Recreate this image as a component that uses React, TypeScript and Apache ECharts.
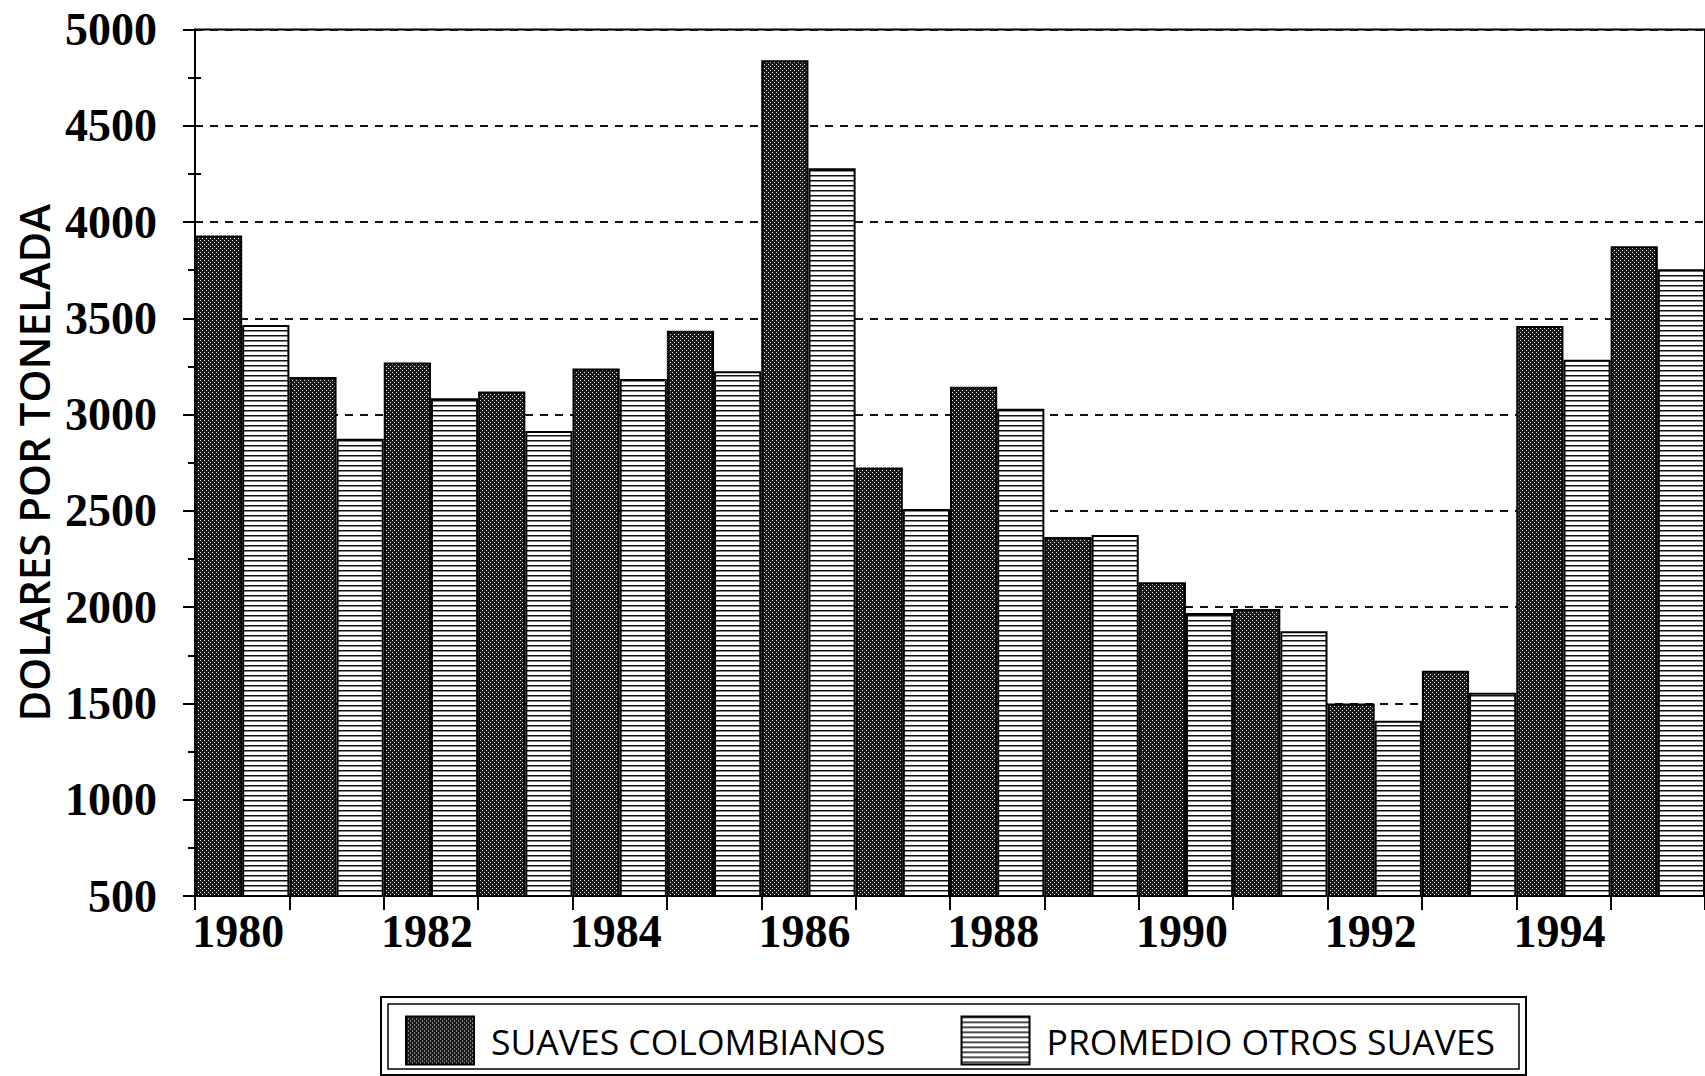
import React, { useEffect, useRef } from "react";
import * as echarts from "echarts";

// ---- data ----
const years = [
  "1980", "1981", "1982", "1983", "1984", "1985", "1986", "1987",
  "1988", "1989", "1990", "1991", "1992", "1993", "1994", "1995",
];
const suavesColombianos = [
  3930, 3195, 3270, 3120, 3240, 3435, 4840, 2725,
  3145, 2365, 2130, 1990, 1500, 1670, 3460, 3875,
];
const promedioOtrosSuaves = [
  3465, 2875, 3085, 2915, 3185, 3225, 4280, 2510,
  3030, 2375, 1970, 1875, 1410, 1555, 3285, 3755,
];
const seriesNames = ["SUAVES COLOMBIANOS", "PROMEDIO OTROS SUAVES"];
const yAxisTitle = "DOLARES POR TONELADA";
const yMin = 500;
const yMax = 5000;
const yInterval = 500;

function makeDotPattern(): HTMLCanvasElement {
  const c = document.createElement("canvas");
  c.width = 4;
  c.height = 4;
  const ctx = c.getContext("2d")!;
  ctx.fillStyle = "#1a1a1a";
  ctx.fillRect(0, 0, 4, 4);
  ctx.fillStyle = "#eeeeee";
  ctx.fillRect(0, 0, 1, 1);
  ctx.fillRect(2, 2, 1, 1);
  return c;
}

function makeLinePattern(): HTMLCanvasElement {
  const c = document.createElement("canvas");
  c.width = 8;
  c.height = 5;
  const ctx = c.getContext("2d")!;
  ctx.fillStyle = "#ffffff";
  ctx.fillRect(0, 0, 8, 5);
  ctx.fillStyle = "#111111";
  ctx.fillRect(0, 0, 8, 1.5);
  return c;
}

export default function App() {
  const ref = useRef<HTMLDivElement>(null);

  useEffect(() => {
    if (!ref.current) return;
    const chart = echarts.init(ref.current, undefined, { renderer: "svg" });
    const dots = makeDotPattern();
    const lines = makeLinePattern();
    const axisLine = { color: "#000", width: 2 };
    const serif = "'Liberation Serif', 'Times New Roman', serif";
    const sans = "'Open Sans', 'Noto Sans', sans-serif";

    chart.setOption({
      animation: false,
      backgroundColor: "#ffffff",
      grid: {
        left: 195,
        right: -8,
        top: 29.5,
        bottom: 180,
        show: true,
        borderColor: "#000",
        borderWidth: 2,
        backgroundColor: "transparent",
      },
      xAxis: {
        type: "category",
        data: years,
        boundaryGap: true,
        axisLine: { show: true, lineStyle: axisLine },
        axisTick: { show: true, interval: 0, length: 14, lineStyle: axisLine },
        axisLabel: {
          interval: 1,
          margin: 12,
          color: "#000",
          fontFamily: serif,
          fontWeight: "bold",
          fontSize: 46,
          padding: [0, 8, 0, 0],
        },
        splitLine: { show: false },
      },
      yAxis: [
        {
          type: "value",
          min: yMin,
          max: yMax,
          interval: yInterval,
          name: yAxisTitle,
          nameLocation: "middle",
          nameGap: 127,
          nameTextStyle: {
            fontFamily: sans,
            fontWeight: 600,
            fontSize: 42,
            color: "#000",
          },
          axisLine: { show: true, lineStyle: axisLine },
          axisTick: { show: true, length: 12, lineStyle: axisLine },
          minorTick: { show: true, splitNumber: 2, length: 7, lineStyle: axisLine },
          axisLabel: {
            margin: 38,
            color: "#000",
            fontFamily: serif,
            fontWeight: "bold",
            fontSize: 46,
            formatter: (v: number) => String(v),
          },
          splitLine: {
            show: true,
            lineStyle: { type: [8, 7], color: "#111", width: 1.8 },
          },
        },
        {
          type: "value",
          min: yMin,
          max: yMax,
          interval: yInterval,
          position: "left",
          axisLine: { show: false },
          axisTick: { show: true, inside: true, length: 3, lineStyle: axisLine },
          minorTick: { show: true, splitNumber: 2, length: 6, lineStyle: axisLine },
          axisLabel: { show: false },
          splitLine: { show: false },
        },
      ],
      legend: {
        data: seriesNames,
        left: 405,
        top: 1015.5,
        padding: 0,
        itemWidth: 68,
        itemHeight: 48,
        itemGap: 75,
        icon: "rect",
        selectedMode: false,
        textStyle: {
          fontFamily: sans,
          fontSize: 35.5,
          color: "#000",
          padding: [0, 0, 0, 12],
        },
      },
      graphic: [
        {
          type: "rect",
          shape: { x: 381, y: 997, width: 1145, height: 78 },
          style: { fill: "none", stroke: "#000", lineWidth: 2 },
        },
        {
          type: "rect",
          shape: { x: 388, y: 1004, width: 1131, height: 65 },
          style: { fill: "none", stroke: "#000", lineWidth: 1.5 },
        },
      ],
      series: [
        {
          type: "bar",
          name: seriesNames[0],
          data: suavesColombianos,
          barGap: "0%",
          barCategoryGap: "0%",
          itemStyle: {
            color: { image: dots, repeat: "repeat", imageWidth: 4, imageHeight: 4 },
            borderColor: "#000",
            borderWidth: 2,
          },
        },
        {
          type: "bar",
          name: seriesNames[1],
          data: promedioOtrosSuaves,
          barGap: "0%",
          barCategoryGap: "0%",
          itemStyle: {
            color: { image: lines, repeat: "repeat", imageWidth: 8, imageHeight: 5 },
            borderColor: "#000",
            borderWidth: 2,
          },
        },
      ],
    });

    return () => {
      chart.dispose();
    };
  }, []);

  return (
    <div
      ref={ref}
      style={{ position: "fixed", left: 0, top: 0, width: 1705, height: 1076 }}
    />
  );
}
